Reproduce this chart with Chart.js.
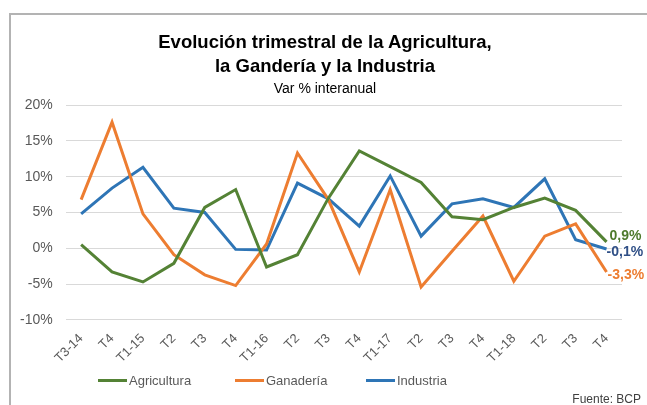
<!DOCTYPE html>
<html>
<head>
<meta charset="utf-8">
<script src="https://cdn.jsdelivr.net/npm/chart.js@4"></script>
<style>
  html, body { margin: 0; padding: 0; background: #fff; }
  #wrap { position: relative; width: 647px; height: 405px;
          font-family: 'Liberation Sans', Arial, sans-serif; }
  #frame { position: absolute; left: 9px; top: 13px; right: 0; bottom: 0;
           border-left: 2px solid #b3b3b3; border-top: 2px solid #b3b3b3; }
  canvas { position: absolute; left: 0; top: 0; }
  #title { position: absolute; left: 0; width: 650px; top: 30px; text-align: center;
           font-weight: bold; font-size: 18.5px; line-height: 24px; color: #000; }
  #subtitle { position: absolute; left: 0; width: 650px; top: 80px; text-align: center;
              font-size: 14px; line-height: 16px; color: #000; }
  #legend { position: absolute; top: 373px; left: 0; height: 16px; }
  .item { position: absolute; top: 0; white-space: nowrap;
          font-size: 13px; line-height: 16px; color: #595959; }
  .swatch { display: inline-block; width: 29px; height: 3px; vertical-align: middle;
            margin-right: 2px; position: relative; top: -1px; }
  #source { position: absolute; right: 6px; top: 391px; font-size: 12px;
            line-height: 16px; color: #404040; }
</style>
</head>
<body>
<div id="wrap">
  <div id="frame"></div>
  <canvas id="chart" width="647" height="405"></canvas>
  <div id="title">Evolución trimestral de la Agricultura,<br>la Gandería y la Industria</div>
  <div id="subtitle">Var % interanual</div>
  <div id="legend"></div>
  <div id="source">Fuente: BCP</div>
</div>
<script>
// Trimestres (T3-2014 a T4-2018)
const quarters = ["T3-14", "T4", "T1-15", "T2", "T3", "T4", "T1-16", "T2", "T3",
                  "T4", "T1-17", "T2", "T3", "T4", "T1-18", "T2", "T3", "T4"];

// Var % interanual
const agricultura = [0.5, -3.3, -4.7, -2.1, 5.7, 8.2, -2.6, -0.9, 7.0,
                     13.6, 11.4, 9.2, 4.4, 4.0, 5.7, 7.0, 5.3, 0.9];
const ganaderia = [6.8, 17.6, 4.8, -0.9, -3.7, -5.2, 0.6, 13.3, 6.8,
                   -3.3, 8.2, -5.4, -0.4, 4.5, -4.6, 1.7, 3.4, -3.3];
const industria = [4.8, 8.4, 11.3, 5.6, 5.0, -0.15, -0.25, 9.1, 6.9,
                   3.1, 10.1, 1.7, 6.2, 6.9, 5.7, 9.7, 1.2, -0.1];

const yTicks = [-10, -5, 0, 5, 10, 15, 20];

const GREEN = "#548235";
const ORANGE = "#ED7D31";
const BLUE = "#2E75B6";
const FONT = "'Liberation Sans', Arial, sans-serif";

// Position horizontale des entrées de la légende (comme dans Excel)
const LEGEND_X = [98, 235, 366];

function fmt(v) {
    return v.toFixed(1).replace(".", ",") + "%";
}

// Étiquette de la dernière valeur de chaque série, à droite du point
const END_LABEL_STYLE = [
    { color: "#4E7A2C", dx: 3, dy: -6 },
    { color: ORANGE, dx: 1, dy: 3 },
    { color: "#2F4F86", dx: 0, dy: 3 },
];

const endLabels = {
    id: "endLabels",
    afterDatasetsDraw(chart) {
        const ctx = chart.ctx;
        ctx.save();
        ctx.font = "bold 14px " + FONT;
        ctx.textBaseline = "middle";
        ctx.textAlign = "left";
        chart.data.datasets.forEach((ds, i) => {
            const meta = chart.getDatasetMeta(i);
            const last = meta.data[meta.data.length - 1];
            const st = END_LABEL_STYLE[i];
            ctx.fillStyle = st.color;
            ctx.fillText(fmt(ds.data[ds.data.length - 1]), last.x + st.dx, last.y + st.dy);
        });
        ctx.restore();
    },
};

function series(label, data, color) {
    return {
        label,
        data,
        borderColor: color,
        backgroundColor: color,
        borderWidth: 3,
        pointRadius: 0,
        tension: 0,
    };
}

const chart = new Chart(document.getElementById("chart"), {
    type: "line",
    data: {
        labels: quarters,
        datasets: [
            series("Agricultura", agricultura, GREEN),
            series("Ganadería", ganaderia, ORANGE),
            series("Industria", industria, BLUE),
        ],
    },
    options: {
        responsive: false,
        animation: false,
        layout: { padding: { left: 7, right: 25, top: 105, bottom: 36 } },
        plugins: {
            title: { display: false },
            legend: { display: false },
            tooltip: { enabled: false },
        },
        scales: {
            x: {
                offset: true,
                grid: { display: false },
                border: { display: false },
                ticks: {
                    color: "#595959",
                    font: { family: FONT, size: 13 },
                    minRotation: 45,
                    maxRotation: 45,
                    autoSkip: false,
                },
            },
            y: {
                min: yTicks[0],
                max: yTicks[yTicks.length - 1],
                afterBuildTicks: (axis) => {
                    axis.ticks = yTicks.map((v) => ({ value: v }));
                },
                grid: { color: "#d9d9d9", drawTicks: false },
                border: { display: false },
                ticks: {
                    color: "#595959",
                    font: { family: FONT, size: 14 },
                    padding: 13,
                    callback: (v) => v + "%",
                },
            },
        },
    },
    plugins: [endLabels],
});

// Légende HTML construite à partir des séries du graphique
const legendEl = document.getElementById("legend");
chart.data.datasets.forEach((ds, i) => {
    const item = document.createElement("div");
    item.className = "item";
    item.style.left = LEGEND_X[i] + "px";
    const sw = document.createElement("span");
    sw.className = "swatch";
    sw.style.background = ds.borderColor;
    item.appendChild(sw);
    item.appendChild(document.createTextNode(ds.label));
    legendEl.appendChild(item);
});
</script>
</body>
</html>
